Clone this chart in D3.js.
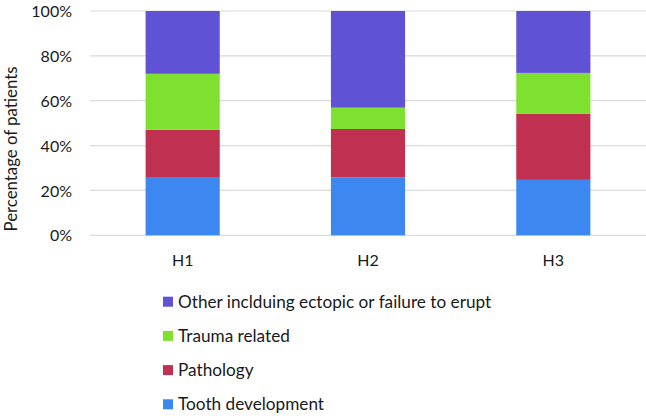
<!DOCTYPE html>
<html><head><meta charset="utf-8">
<script src="https://cdn.jsdelivr.net/npm/d3@7/dist/d3.min.js"></script>
<style>body{margin:0;background:#fff}svg{display:block}text{font-family:Lato,"Open Sans",sans-serif;fill:#1a1a1a}</style>
</head><body><svg id="c" width="646" height="416"></svg>
<script>
const categories = ["H1", "H2", "H3"];
const seriesNames = ["Tooth development", "Pathology", "Trauma related", "Other inclduing ectopic or failure to erupt"];
const toothDevelopment = [26.0, 25.9, 24.7];
const pathology = [21.1, 21.5, 29.4];
const traumaRelated = [24.9, 9.5, 18.3];
const other = [28.0, 43.1, 27.6];
const yTicks = [0, 20, 40, 60, 80, 100];
const colors = ["#3c88f0", "#c03050", "#80e030", "#6052d4"];

const svg = d3.select("#c");
const x0 = 90, x1 = 646, yTop = 11, yBot = 235.3;
const x = d3.scaleBand().domain(categories).range([x0, x1]).paddingInner(0.6).paddingOuter(0.3);
const y = d3.scaleLinear().domain([0, 100]).range([yBot, yTop]);

const rows = categories.map((c, i) => ({cat: c, s0: toothDevelopment[i], s1: pathology[i], s2: traumaRelated[i], s3: other[i]}));
const stack = d3.stack().keys(["s0", "s1", "s2", "s3"])(rows);

// grid
svg.append("g").selectAll("line").data(yTicks).join("line")
  .attr("x1", x0).attr("x2", x1).attr("y1", d => y(d)).attr("y2", d => y(d))
  .attr("stroke", "#d9d9d9").attr("stroke-width", 1.2);

// y axis labels
const yAxis = d3.axisLeft(y).tickValues(yTicks).tickFormat(d => d + "%").tickSize(0).tickPadding(0);
const yg = svg.append("g").attr("transform", `translate(72,0)`).call(yAxis);
yg.select(".domain").remove();
yg.selectAll("text").style("font-size", "16px").attr("fill", "#1a1a1a").attr("dy", "0.35em").attr("x", 0);

// bars
svg.append("g").selectAll("g").data(stack).join("g").attr("fill", (d, i) => colors[i])
  .selectAll("rect").data(d => d).join("rect")
  .attr("x", d => x(d.data.cat)).attr("width", x.bandwidth())
  .attr("y", d => y(d[1])).attr("height", d => y(d[0]) - y(d[1]));

// x axis labels
const xAxis = d3.axisBottom(x).tickSize(0).tickPadding(0);
const xg = svg.append("g").attr("transform", `translate(0,${yBot})`).call(xAxis);
xg.select(".domain").remove();
xg.selectAll("text").style("font-size", "16px").attr("fill", "#1a1a1a").attr("y", 19);

// y title
svg.append("text").attr("transform", "translate(17,149) rotate(-90)")
  .attr("text-anchor", "middle").style("font-size", "16.8px").text("Percentage of patients");

// legend (reverse order)
const legendOrder = [3, 2, 1, 0];
const lg = svg.append("g").selectAll("g").data(legendOrder).join("g")
  .attr("transform", (d, i) => `translate(163,${301.7 + i * 34.2})`);
lg.append("rect").attr("x", 0).attr("y", -5).attr("width", 10).attr("height", 10).attr("fill", d => colors[d]);
lg.append("text").attr("x", 15).attr("dy", "0.35em").style("font-size", "17.2px").text(d => seriesNames[d]);
</script></body></html>
